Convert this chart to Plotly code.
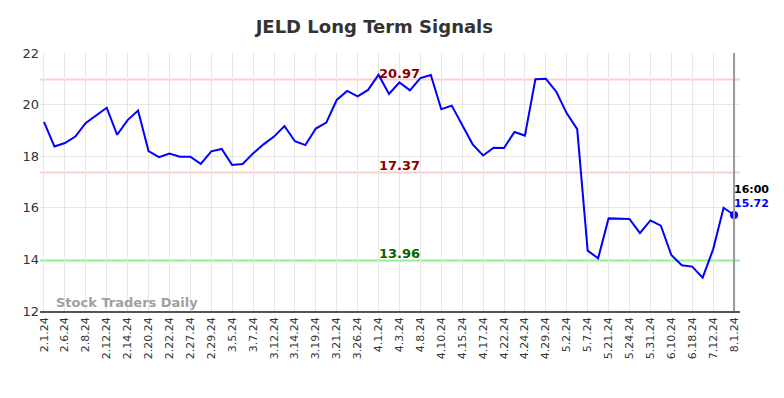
import plotly.graph_objects as go

tick_labels = ["2.1.24", "2.6.24", "2.8.24", "2.12.24", "2.14.24", "2.20.24", "2.22.24",
               "2.27.24", "2.29.24", "3.5.24", "3.7.24", "3.12.24", "3.14.24", "3.19.24",
               "3.21.24", "3.26.24", "4.1.24", "4.3.24", "4.8.24", "4.10.24", "4.15.24",
               "4.17.24", "4.22.24", "4.24.24", "4.29.24", "5.2.24", "5.7.24", "5.21.24",
               "5.24.24", "5.31.24", "6.10.24", "6.18.24", "7.12.24", "8.1.24"]

prices = [19.33, 18.38, 18.51, 18.76, 19.29, 19.57, 19.88, 18.83, 19.40, 19.77,
          18.20, 17.96, 18.10, 17.98, 17.98, 17.70, 18.19, 18.28, 17.66, 17.70,
          18.11, 18.46, 18.76, 19.17, 18.58, 18.43, 19.07, 19.30, 20.18, 20.53,
          20.32, 20.57, 21.16, 20.41, 20.86, 20.55, 21.03, 21.15, 19.82, 19.96,
          19.20, 18.46, 18.03, 18.33, 18.32, 18.94, 18.80, 20.98, 21.00, 20.50,
          19.66, 19.05, 14.34, 14.04, 15.59, 15.57, 15.57, 15.02, 15.51, 15.31,
          14.17, 13.77, 13.72, 13.29, 14.39, 16.00, 15.72]

upper_signal = 20.97
mid_signal = 17.37
lower_signal = 13.96
last_time = "16:00"

x_idx = list(range(len(prices)))
tick_vals = x_idx[::2]

fig = go.Figure()
fig.add_trace(go.Scatter(x=x_idx, y=prices, mode="lines",
                         line=dict(color="#0000ff", width=2), hoverinfo="skip",
                         showlegend=False))
fig.add_trace(go.Scatter(x=[x_idx[-1]], y=[prices[-1]], mode="markers",
                         marker=dict(color="#0000ff", size=8), showlegend=False))

for val, col in [(upper_signal, "#ffcccc"), (mid_signal, "#ffcccc"), (lower_signal, "#90ee90")]:
    fig.add_hline(y=val, line=dict(color=col, width=2), layer="below")

fig.add_vline(x=x_idx[-1], line=dict(color="#999999", width=2))

mid_x = x_idx[len(x_idx) // 2 + 1]
fig.add_annotation(x=mid_x, y=upper_signal, text="<b>%.2f</b>" % upper_signal, showarrow=False,
                   yanchor="bottom", yshift=-3, font=dict(color="#8b0000", size=13))
fig.add_annotation(x=mid_x, y=mid_signal, text="<b>%.2f</b>" % mid_signal, showarrow=False,
                   yanchor="bottom", yshift=-3, font=dict(color="#8b0000", size=13))
fig.add_annotation(x=mid_x, y=lower_signal, text="<b>%.2f</b>" % lower_signal, showarrow=False,
                   yanchor="bottom", yshift=-3, font=dict(color="#006400", size=13))
fig.add_annotation(x=x_idx[-1], y=prices[-1], text="<b>%s</b>" % last_time, showarrow=False,
                   xanchor="left", yanchor="bottom", xshift=-2, yshift=17,
                   font=dict(color="#000000", size=11))
fig.add_annotation(x=x_idx[-1], y=prices[-1], text="<b>%.2f</b>" % prices[-1], showarrow=False,
                   xanchor="left", yanchor="bottom", xshift=-2, yshift=3,
                   font=dict(color="#0000ff", size=11))
fig.add_annotation(xref="paper", yref="paper", x=0.02, y=0.0, text="<b>Stock Traders Daily</b>",
                   showarrow=False, xanchor="left", yanchor="bottom", yshift=-1,
                   font=dict(color="#a0a0a0", size=13))

fig.update_layout(
    width=768, height=382,
    margin=dict(l=32, r=36, t=45, b=79),
    paper_bgcolor="white", plot_bgcolor="white",
    font=dict(family="DejaVu Sans", color="#333333"),
    title=dict(text="<b>JELD Long Term Signals</b>", x=0.477, xanchor="center", y=0.95,
               yanchor="middle", font=dict(size=18, color="#333333")),
    xaxis=dict(range=[-0.38, 66.57], tickmode="array", tickvals=tick_vals, ticktext=tick_labels,
               tickangle=-90, tickfont=dict(size=11, color="#333333"), showgrid=True,
               gridcolor="#e6e6e6", gridwidth=1, zeroline=False, showline=True,
               linecolor="#555555", linewidth=1.5, ticks=""),
    yaxis=dict(range=[12, 22], dtick=2, tickfont=dict(size=13, color="#333333"), showgrid=True,
               gridcolor="#e6e6e6", gridwidth=1, zeroline=False, ticks="", ticklen=0),
)

fig.write_html("out.html")
